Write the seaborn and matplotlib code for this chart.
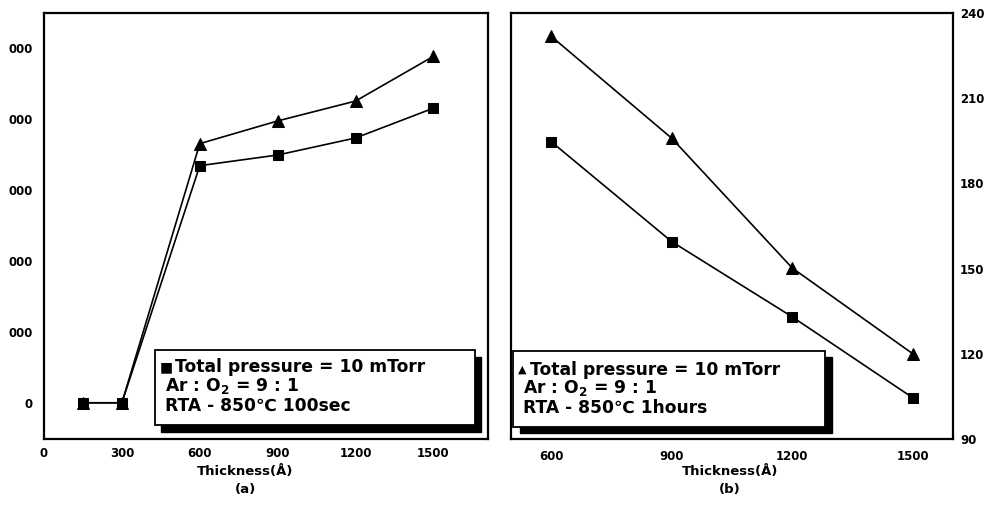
import matplotlib
matplotlib.use("Agg")
import matplotlib.pyplot as plt
import matplotlib.patches as patches
import pandas as pd
import seaborn as sns

# datos panel (a)
thick_a = [150, 300, 600, 900, 1200, 1500]
sq_a = [0, 0, 3340, 3490, 3730, 4150]
tri_a = [0, 0, 3650, 3970, 4250, 4880]
yticks_a = [0, 1000, 2000, 3000, 4000, 5000]
ylabels_a = ["0", "000", "000", "000", "000", "000"]
xticks_a = [0, 300, 600, 900, 1200, 1500]

# datos panel (b)
thick_b = [600, 900, 1200, 1500]
sq_b = [194.7, 159.5, 133.0, 104.5]
tri_b = [231.8, 195.9, 150.2, 120.0]
yticks_b = [90, 120, 150, 180, 210, 240]
xticks_b = [600, 900, 1200, 1500]

legend_a = ["Total pressure = 10 mTorr", "Ar : O$_2$ = 9 : 1", "RTA - 850℃ 100sec"]
legend_b = ["Total pressure = 10 mTorr", "Ar : O$_2$ = 9 : 1", "RTA - 850℃ 1hours"]

sns.set_theme(style="white")
plt.rcParams['font.family'] = ['DejaVu Sans']
plt.rcParams['font.weight'] = 'bold'
plt.rcParams['text.color'] = 'black'
plt.rcParams['mathtext.fontset'] = 'custom'
plt.rcParams['mathtext.rm'] = 'DejaVu Sans:bold'
plt.rcParams['mathtext.default'] = 'rm'

fig = plt.figure(figsize=(9.91, 5.17), dpi=100)
W, H = 991, 517
ax1 = fig.add_axes([44 / W, 1 - 439 / H, 444 / W, 426 / H])
ax2 = fig.add_axes([511 / W, 1 - 439 / H, 442 / W, 426 / H])

df_a = pd.DataFrame({"x": thick_a, "sq": sq_a, "tri": tri_a})
df_b = pd.DataFrame({"x": thick_b, "sq": sq_b, "tri": tri_b})

for ax, df in [(ax1, df_a), (ax2, df_b)]:
    sns.lineplot(data=df, x="x", y="sq", ax=ax, color="black", lw=1.2,
                 marker="s", markersize=6.5, markeredgecolor="black")
    sns.lineplot(data=df, x="x", y="tri", ax=ax, color="black", lw=1.2,
                 marker="^", markersize=9, markeredgecolor="black")
    for s in ax.spines.values():
        s.set_color("black")
        s.set_linewidth(1.6)
    ax.set_xlabel("")
    ax.set_ylabel("")
    ax.tick_params(length=0, labelsize=8.5, colors="black")

# panel (a)
ax1.set_xlim(0, 1710)
ax1.set_ylim(-510, 5490)
ax1.set_xticks(xticks_a)
ax1.set_yticks(yticks_a)
ax1.set_yticklabels(ylabels_a)
ax1.tick_params(axis="y", pad=8)
ax1.tick_params(axis="x", pad=6)

# panel (b)
ax2.set_xlim(500, 1600)
ax2.set_ylim(90, 240)
ax2.set_xticks(xticks_b)
ax2.set_yticks(yticks_b)
ax2.yaxis.tick_right()
ax2.tick_params(axis="y", pad=5)
ax2.tick_params(axis="x", pad=8)

for lab in ax1.get_xticklabels() + ax1.get_yticklabels() + ax2.get_xticklabels() + ax2.get_yticklabels():
    lab.set_fontweight("bold")


def caja(ax, x0, y0, x1, y1, dx, dy, simbolo, tam, lineas, xs, xt, ys):
    ax.add_patch(patches.Rectangle((x0 + dx, y0 - dy), x1 - x0, y1 - y0,
                                   transform=ax.transAxes, facecolor="black",
                                   edgecolor="black", zorder=5))
    ax.add_patch(patches.Rectangle((x0, y0), x1 - x0, y1 - y0,
                                   transform=ax.transAxes, facecolor="white",
                                   edgecolor="black", lw=1.3, zorder=6))
    ax.text(xs, ys[0], simbolo, transform=ax.transAxes, fontsize=tam,
            va="center", ha="left", zorder=7, fontweight="bold", color="black")
    for i, t in enumerate(lineas):
        ax.text(xt[i], ys[i], t, transform=ax.transAxes, fontsize=12.3,
                va="center", ha="left", zorder=7, fontweight="bold", color="black")


caja(ax1, 0.25, 0.033, 0.971, 0.209, 0.013, 0.016, "■", 10, legend_a,
     0.26, [0.295, 0.272, 0.272], [0.168, 0.125, 0.079])
caja(ax2, 0.005, 0.028, 0.71, 0.206, 0.016, 0.014, "▲", 8, legend_b,
     0.016, [0.043, 0.027, 0.027], [0.163, 0.119, 0.073])

fig.text(245 / W, 1 - 471 / H, "Thickness(Å)", ha="center", va="center",
         fontsize=9.5, fontweight="bold")
fig.text(245 / W, 1 - 490 / H, "(a)", ha="center", va="center",
         fontsize=9.5, fontweight="bold")
fig.text(730 / W, 1 - 471 / H, "Thickness(Å)", ha="center", va="center",
         fontsize=9.5, fontweight="bold")
fig.text(730 / W, 1 - 490 / H, "(b)", ha="center", va="center",
         fontsize=9.5, fontweight="bold")

fig.savefig("out.png", dpi=100, facecolor="white")
